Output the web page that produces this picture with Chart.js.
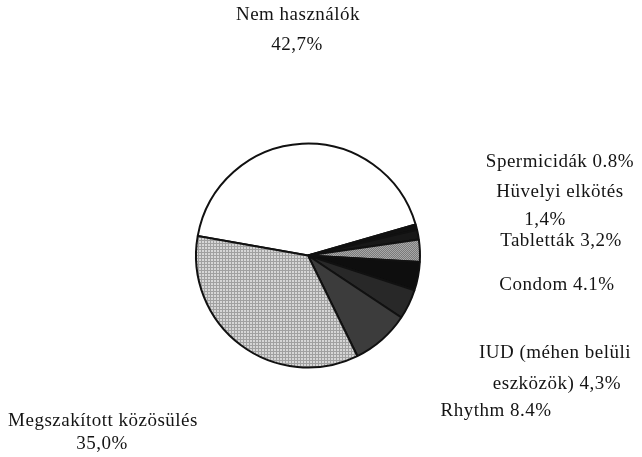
<!DOCTYPE html>
<html>
<head>
<meta charset="utf-8">
<script src="https://cdn.jsdelivr.net/npm/chart.js@4/dist/chart.umd.min.js"></script>
<style>
  html, body { margin: 0; padding: 0; background: #fff; }
  canvas { display: block; }
</style>
</head>
<body>
<canvas id="c" width="642" height="457"></canvas>
<script>
// ---- data ----
const categories = ["Nem használók", "Spermicidák", "Hüvelyi elkötés", "Tabletták", "Condom", "IUD (méhen belüli eszközök)", "Rhythm", "Megszakított közösülés"];
const shares = [42.7, 0.8, 1.4, 3.2, 4.1, 4.3, 8.4, 35.0];
const labelLines = [
  ["Nem használók", "42,7%"],
  ["Spermicidák 0.8%"],
  ["Hüvelyi elkötés", "1,4%"],
  ["Tabletták 3,2%"],
  ["Condom 4.1%"],
  ["IUD (méhen belüli", "eszközök) 4,3%"],
  ["Rhythm 8.4%"],
  ["Megszakított közösülés", "35,0%"]
];

// ---- layout (text placement, pixel) ----
const labelPos = [
  [[298, 15], [297, 45]],
  [[560, 162]],
  [[560, 192], [545, 220]],
  [[561, 241]],
  [[557, 285]],
  [[555, 353], [557, 384]],
  [[496, 411]],
  [[103, 421], [102, 444]]
];

function makePattern(size, drawFn) {
  const c = document.createElement('canvas');
  c.width = size; c.height = size;
  const x = c.getContext('2d');
  drawFn(x, size);
  return x.createPattern(c, 'repeat');
}
const dotted = makePattern(3, (x, s) => {
  x.fillStyle = '#d6d6d6'; x.fillRect(0, 0, s, s);
  x.fillStyle = '#a0a0a0'; x.fillRect(0, 0, s, 1); x.fillRect(0, 0, 1, s);
});
const checker = makePattern(2, (x, s) => {
  x.fillStyle = '#7a7a7a'; x.fillRect(0, 0, s, s);
  x.fillStyle = '#a8a8a8'; x.fillRect(0, 0, 1, 1); x.fillRect(1, 1, 1, 1);
});

const fills = ['#ffffff', '#111111', '#181818', checker, '#0e0e0e', '#282828', '#3c3c3c', dotted];

const labelPlugin = {
  id: 'labels',
  afterDraw(chart) {
    const ctx = chart.ctx;
    ctx.save();
    ctx.fillStyle = '#141414';
    ctx.font = '19px "Liberation Serif", serif';
    ctx.textAlign = 'center';
    ctx.textBaseline = 'middle';
    try { ctx.letterSpacing = '0.5px'; } catch (e) {}
    labelLines.forEach((lines, i) => {
      lines.forEach((t, j) => {
        const p = labelPos[i][j];
        ctx.fillText(t, p[0], p[1]);
      });
    });
    ctx.restore();
  }
};

new Chart(document.getElementById('c'), {
  type: 'pie',
  data: {
    labels: categories,
    datasets: [{
      data: shares,
      backgroundColor: fills,
      borderColor: '#111111',
      borderWidth: 2
    }]
  },
  options: {
    responsive: false,
    devicePixelRatio: 1,
    animation: false,
    rotation: -80,
    layout: { padding: { left: 195, right: 221, top: 142, bottom: 88 } },
    plugins: { legend: { display: false }, tooltip: { enabled: false } }
  },
  plugins: [labelPlugin]
});
</script>
</body>
</html>
